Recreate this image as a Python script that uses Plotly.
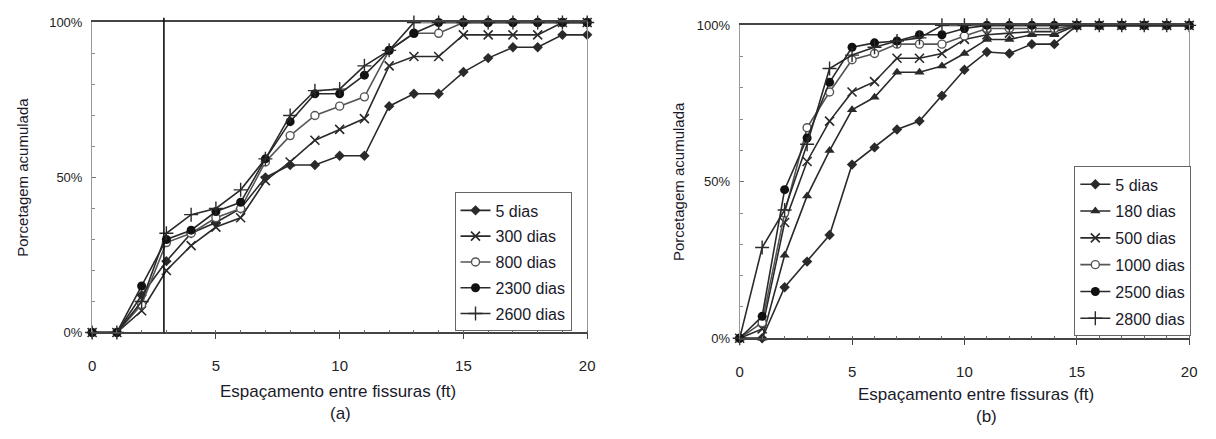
import plotly.graph_objects as go

# ---------------- data ----------------
x_vals = list(range(0, 21))

# (a) left chart
a_names = ["5 dias", "300 dias", "800 dias", "2300 dias", "2600 dias"]
a_5 = [0, 0, .12, .23, .32, .355, .40, .50, .54, .54, .57, .57, .73, .77, .77, .84, .885, .92, .92, .96, .96]
a_300 = [0, 0, .07, .20, .28, .34, .37, .49, .55, .62, .655, .69, .86, .89, .89, .96, .96, .96, .96, 1, 1]
a_800 = [0, 0, .09, .29, .32, .37, .40, .55, .635, .70, .73, .76, .91, .965, .965, 1, 1, 1, 1, 1, 1]
a_2300 = [0, 0, .15, .30, .33, .39, .42, .56, .68, .77, .77, .83, .91, .965, 1, 1, 1, 1, 1, 1, 1]
a_2600 = [0, 0, .10, .32, .38, .40, .46, .56, .70, .78, .785, .86, .91, 1, 1, 1, 1, 1, 1, 1, 1]
a_marker_x = 2.9

# (b) right chart
b_names = ["5 dias", "180 dias", "500 dias", "1000 dias", "2500 dias", "2800 dias"]
b_5 = [0, 0, .163, .245, .33, .555, .61, .667, .694, .775, .858, .915, .91, .94, .94, 1, 1, 1, 1, 1, 1]
b_180 = [0, 0, .265, .455, .60, .73, .77, .85, .85, .87, .91, .955, .955, .97, .97, 1, 1, 1, 1, 1, 1]
b_500 = [0, .03, .37, .565, .694, .787, .82, .895, .895, .91, .955, .97, .975, .98, .98, 1, 1, 1, 1, 1, 1]
b_1000 = [0, .05, .40, .673, .787, .89, .91, .94, .94, .94, .966, .99, .99, .99, .99, 1, 1, 1, 1, 1, 1]
b_2500 = [0, .07, .475, .64, .818, .93, .944, .95, .97, .97, .99, 1, 1, 1, 1, 1, 1, 1, 1, 1, 1]
b_2800 = [0, .29, .41, .62, .862, .905, .93, .95, .96, 1, 1, 1, 1, 1, 1, 1, 1, 1, 1, 1, 1]

x_ticks = [0, 5, 10, 15, 20]
y_ticks = [0, 0.5, 1]
y_ticktext = ["0%", "50%", "100%"]
x_title = "Espaçamento entre fissuras (ft)"
y_title = "Porcetagem acumulada"

# ---------------- styles ----------------
W, H = 1216, 439
FONT = "Liberation Sans, Arial"
LC = "#2a2a2a"

def mk(symbol):
    if symbol == "diamond":
        return dict(symbol="diamond", size=8, color=LC)
    if symbol == "triangle-up":
        return dict(symbol="triangle-up", size=9, color=LC)
    if symbol == "x-thin":
        return dict(symbol="x-thin", size=9, color=LC, line=dict(width=1.6, color=LC))
    if symbol == "circle-open":
        return dict(symbol="circle", size=8, color="white", line=dict(width=1.4, color="#555"))
    if symbol == "circle":
        return dict(symbol="circle", size=9, color="#111")
    if symbol == "cross-thin":
        return dict(symbol="cross-thin", size=10, color=LC, line=dict(width=1.4, color=LC))

fig = go.Figure()

a_series = [a_5, a_300, a_800, a_2300, a_2600]
a_syms = ["diamond", "x-thin", "circle-open", "circle", "cross-thin"]
for i, (nm, ys, sy) in enumerate(zip(a_names, a_series, a_syms)):
    fig.add_trace(go.Scatter(
        x=x_vals, y=ys, name=nm, mode="lines+markers",
        line=dict(color="#555" if sy == "circle-open" else LC, width=1.6),
        marker=mk(sy), cliponaxis=False, xaxis="x", yaxis="y",
        legend="legend", legendgroup="a%d" % i))

b_series = [b_5, b_180, b_500, b_1000, b_2500, b_2800]
b_syms = ["diamond", "triangle-up", "x-thin", "circle-open", "circle", "cross-thin"]
for i, (nm, ys, sy) in enumerate(zip(b_names, b_series, b_syms)):
    fig.add_trace(go.Scatter(
        x=x_vals, y=ys, name=nm, mode="lines+markers",
        line=dict(color="#555" if sy == "circle-open" else LC, width=1.6),
        marker=mk(sy), cliponaxis=False, xaxis="x2", yaxis="y2",
        legend="legend2", legendgroup="b%d" % i))

def px_x(p):
    return p / W

def px_y(p):
    return 1 - p / H

def xaxis_cfg(d0, d1, anchor):
    return dict(domain=[px_x(d0), px_x(d1)], range=[0, 20], anchor=anchor,
                tickvals=x_ticks, ticks="outside", ticklen=5, tickcolor="#444",
                ticklabelstandoff=14,
                minor=dict(dtick=1, ticks="inside", ticklen=3, tickcolor="#666"),
                showline=True, linecolor="#444", linewidth=1.5, mirror=True,
                showgrid=False, zeroline=False,
                tickfont=dict(family=FONT, size=15, color="#222"))

def yaxis_cfg(d0, d1, anchor):
    return dict(domain=[px_y(d1), px_y(d0)], range=[0, 1], anchor=anchor,
                tickvals=y_ticks, ticktext=y_ticktext, ticks="inside", ticklen=4,
                tickcolor="#777", ticklabelstandoff=6,
                minor=dict(dtick=0.1, ticks="inside", ticklen=3, tickcolor="#888"),
                showline=True, linecolor="#999", linewidth=1.2, mirror=True,
                showgrid=False, zeroline=False,
                tickfont=dict(family=FONT, size=13, color="#222"))

legend_common = dict(bgcolor="white", bordercolor="#666", borderwidth=1,
                     font=dict(family=FONT, size=16, color="#1a1a2a"),
                     traceorder="grouped",
                     xanchor="left", yanchor="top", itemwidth=30)

fig.update_layout(
    width=W, height=H, autosize=False,
    margin=dict(l=0, r=0, t=0, b=0),
    paper_bgcolor="white", plot_bgcolor="white",
    showlegend=True,
    xaxis=xaxis_cfg(89, 589, "y"),
    yaxis=yaxis_cfg(16, 337, "x"),
    xaxis2=xaxis_cfg(743, 1197, "y2"),
    yaxis2=yaxis_cfg(19, 343, "x2"),
    legend=dict(x=px_x(455), y=px_y(192), tracegroupgap=2, **legend_common),
    legend2=dict(x=px_x(1081), y=px_y(165), tracegroupgap=3, **legend_common),
)

fig.add_shape(type="line", xref="x", yref="y domain", x0=a_marker_x, x1=a_marker_x,
              y0=0, y1=1.015, line=dict(color="#111", width=1.6))

annots = [
    (337, 398, x_title, 0, 17), (340, 421, "(a)", 0, 17),
    (982, 401, x_title, 0, 17), (992, 424, "(b)", 0, 17),
    (19, 176, y_title, -90, 15), (682, 181, y_title, -90, 15),
]
for xp, yp, txt, ang, fs in annots:
    fig.add_annotation(x=px_x(xp), y=px_y(yp), xref="paper", yref="paper",
                       text=txt, showarrow=False, textangle=ang,
                       xanchor="center", yanchor="middle",
                       font=dict(family=FONT, size=fs, color="#1a1a2a"))

fig.write_html("out.html")
